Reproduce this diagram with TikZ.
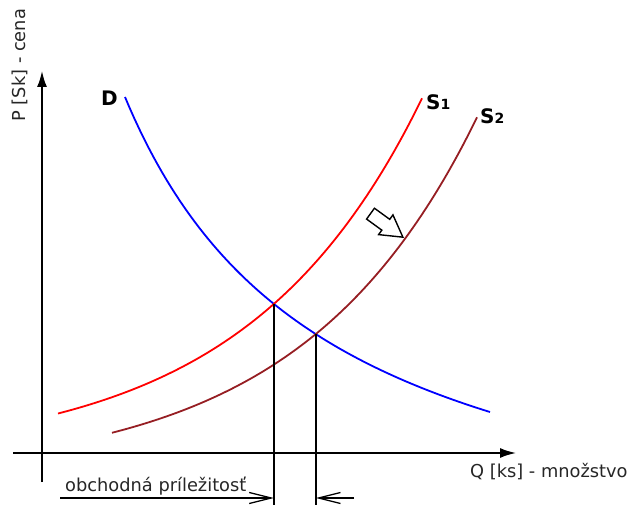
\documentclass[tikz,border=0pt]{standalone}
\usepackage{fontspec}
\setmainfont{DejaVu Sans}
\usetikzlibrary{arrows.meta,intersections,shapes.arrows}
\definecolor{tmavocervena}{RGB}{150,30,35}
\newcommand{\popis}{\fontsize{17.8}{21}\selectfont}
\newcommand{\znacka}{\fontsize{20}{22}\selectfont\bfseries}

\begin{document}
\begin{tikzpicture}[x=1pt,y=-1pt,font=\popis]
  \useasboundingbox (0,0) rectangle (630,505);
  \coordinate (Pd) at (42,482);
  \coordinate (Py) at (42,70);
  \coordinate (Ql) at (13,453);
  \coordinate (Qx) at (517,453);
  \coordinate (L) at (60,498);
  \coordinate (R) at (354,498);
  \coordinate (spodok) at (0,505);

  % osi
  \draw[line width=2.8pt,-{Latex[length=17pt,width=10pt]}] (Pd) -- (Py);
  \draw[line width=2.8pt,-{Latex[length=17pt,width=10pt]}] (Ql) -- (Qx);

  % krivky dopytu a ponuky
  \draw[name path=D,blue,line width=1.8pt] plot[domain=125:490,samples=80]
    (\x,{589.1-1009.74/((\x+80.2)/100)});
  \draw[name path=S1,red,line width=1.8pt] plot[domain=58:422,samples=80]
    (\x,{458.66-45.66*exp(0.0057*(\x-60))});
  \draw[name path=S2,tmavocervena,line width=1.8pt] plot[domain=112:477,samples=80]
    (\x,{477.66-45.66*exp(0.0057*(\x-115))});

  \path[name intersections={of=D and S1,by=E1}];
  \path[name intersections={of=D and S2,by=E2}];

  \draw[line width=1.7pt] (E1) -- (E1 |- spodok);
  \draw[line width=1.7pt] (E2) -- (E2 |- spodok);
  \draw[line width=1.3pt,-{Straight Barb[length=22pt,width=11pt]}] (L) -- (E1 |- L);
  \draw[line width=1.3pt,-{Straight Barb[length=22pt,width=11pt]}] (R) -- (E2 |- R);

  % posun ponuky
  \node[single arrow,draw,line width=1.4pt,inner sep=6pt,
        single arrow head extend=5.5pt,single arrow tip angle=60,
        minimum height=40pt,rotate=-36] (posun) at (382,222) {};

  \node[anchor=base west,rotate=90,black!85] (osP) at (25,125) {P [Sk] - cena};
  \node[anchor=base west,black!85,inner sep=0pt] (osQ) at (470,477) {Q [ks] - množstvo};
  \node[anchor=base west,black!85,inner sep=0pt] (prilez) at (65,491) {obchodná príležitosť};
  \node[anchor=base west,inner sep=0pt,font=\znacka] (lD) at (101,106) {D};
  \node[anchor=base west,inner sep=0pt,font=\znacka] (lS1) at (426,110)
    {S{\fontsize{14}{14}\selectfont 1}};
  \node[anchor=base west,inner sep=0pt,font=\znacka] (lS2) at (480,124)
    {S{\fontsize{14}{14}\selectfont 2}};
\end{tikzpicture}
\end{document}
